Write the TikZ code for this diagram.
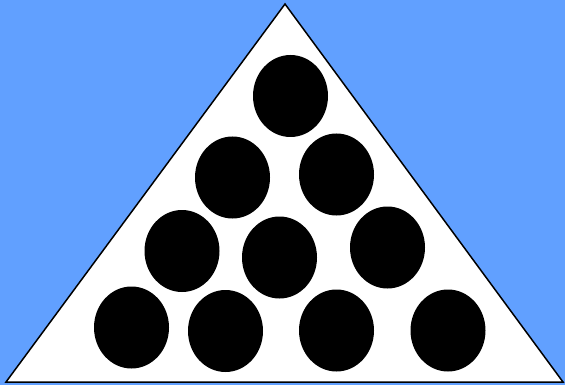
\documentclass[tikz,border=0pt]{standalone}
\usetikzlibrary{shapes.geometric}
\definecolor{bgblue}{RGB}{97,160,255}
\begin{document}
\begin{tikzpicture}[x=1pt,y=-1pt,
  ball/.style={ellipse,fill=black,draw=none,minimum width=75pt,minimum height=82pt,inner sep=0pt}]
\useasboundingbox (0,0) rectangle (565,385);
\fill[bgblue] (0,0) rectangle (565,385);
\coordinate (apex) at (285,4);
\coordinate (bl) at (6,382);
\coordinate (br) at (563,382);
\draw[fill=white,line width=1.5pt,line join=miter] (apex) -- (br) -- (bl) -- cycle;
\node[ball] (b1) at (290.5,96) {};
\node[ball] (b2) at (232.5,177.5) {};
\node[ball] (b3) at (336.5,174.5) {};
\node[ball] (b4) at (182,251) {};
\node[ball] (b5) at (279.5,257.5) {};
\node[ball] (b6) at (387.5,247.5) {};
\node[ball] (b7) at (131.5,327.5) {};
\node[ball] (b8) at (225.5,331) {};
\node[ball] (b9) at (336.5,330.5) {};
\node[ball] (b10) at (448,330.5) {};
\end{tikzpicture}
\end{document}
